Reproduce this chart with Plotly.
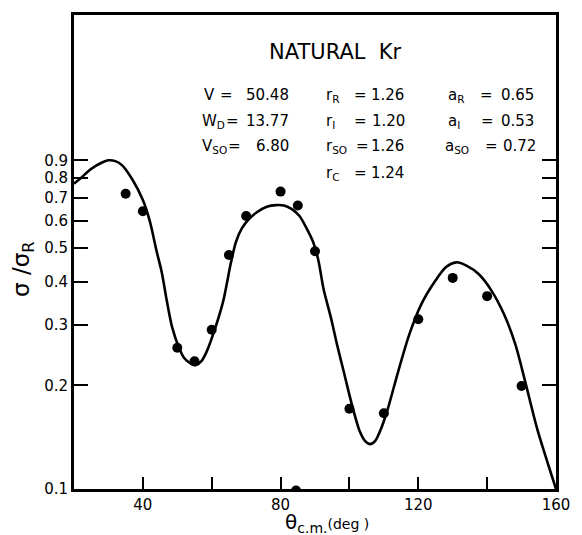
import plotly.graph_objects as go

# Measured elastic scattering ratio sigma/sigma_R for natural Kr
theta_data = [35, 40, 50, 55, 60, 65, 70, 80, 84.5, 85, 90, 100, 110, 120, 130, 140, 150]
ratio_data = [0.72, 0.64, 0.257, 0.235, 0.29, 0.478, 0.62, 0.73, 0.099, 0.665, 0.49,
              0.171, 0.166, 0.311, 0.41, 0.363, 0.199]

# Optical-model fit curve
theta_fit = [20, 22, 25, 28, 30, 32, 34, 37, 40, 42, 44, 45.5, 47, 48.5, 50.5, 52, 54,
             55.5, 57, 58.5, 60.4, 63.3, 65.5, 67, 68.7, 71, 73, 76, 78.7, 81, 83.4,
             85.5, 87.6, 89.5, 91, 92.5, 94.6, 96.5, 98.3, 100.7, 103, 104.5, 106, 107.5,
             109, 111, 114.2, 117.4, 120.9, 124.8, 128, 131, 134, 137.6, 141.3, 145,
             148.2, 151, 154.5, 157.7, 160]
ratio_fit = [0.77, 0.80, 0.85, 0.885, 0.90, 0.895, 0.87, 0.79, 0.69, 0.60, 0.49, 0.425,
             0.35, 0.295, 0.257, 0.24, 0.231, 0.229, 0.235, 0.25, 0.281, 0.35, 0.45,
             0.52, 0.57, 0.61, 0.635, 0.66, 0.667, 0.665, 0.648, 0.62, 0.57, 0.52, 0.46,
             0.38, 0.315, 0.26, 0.22, 0.176, 0.147, 0.138, 0.135, 0.138, 0.148, 0.169,
             0.22, 0.281, 0.344, 0.40, 0.44, 0.455, 0.445, 0.42, 0.376, 0.32, 0.263,
             0.206, 0.15, 0.118, 0.1]

# Axis ticks
x_tickvals = [40, 60, 80, 100, 120, 140, 160]
x_ticktext = ["40", "", "80", "", "120", "", "160"]
y_tickvals = [0.1, 0.2, 0.3, 0.4, 0.5, 0.6, 0.7, 0.8, 0.9]
y_ticktext = ["0.1", "0.2", "0.3", "0.4", "0.5", "0.6", "0.7", "0.8", "0.9"]

# Optical-model parameters, three columns
col1_names = ["V", "W<sub>D</sub>", "V<sub>SO</sub>"]
col1_values = ["50.48", "13.77", "6.80"]
col2_names = ["r<sub>R</sub>", "r<sub>I</sub>", "r<sub>SO</sub>", "r<sub>C</sub>"]
col2_values = ["1.26", "1.20", "1.26", "1.24"]
col3_names = ["a<sub>R</sub>", "a<sub>I</sub>", "a<sub>SO</sub>"]
col3_values = ["0.65", "0.53", "0.72"]

W, H = 582, 535
ML, MR, MT, MB = 74, 16, 13, 46
PW, PH = W - ML - MR, H - MT - MB
FONT = "DejaVu Sans"


def paper(px, py):
    return (px - ML) / PW, (H - MB - py) / PH


fig = go.Figure()
fig.add_trace(go.Scatter(x=theta_fit, y=ratio_fit, mode="lines",
                         line=dict(color="black", width=2.6, shape="spline", smoothing=0.8),
                         hoverinfo="skip"))
fig.add_trace(go.Scatter(x=theta_data, y=ratio_data, mode="markers",
                         marker=dict(color="black", size=10), cliponaxis=True))

annotations = []


def add_text(text, px, py, size, xanchor="left", yanchor="top", angle=0):
    x, y = paper(px, py)
    annotations.append(dict(text=text, x=x, y=y, xref="paper", yref="paper",
                            xanchor=xanchor, yanchor=yanchor, showarrow=False,
                            textangle=angle, borderpad=0,
                            font=dict(family=FONT, size=size, color="black")))


add_text("NATURAL  Kr", 341, 50, 21, xanchor="center", yanchor="middle")

row_y = [93, 119, 145, 172]
PS = 15
# column layout: symbol start, '=' center, value right end (pixels)
col1_layout = [(206, 230, 294), (204, 236, 294), (204, 238, 294)]
col2_layout = [(330, 366, 412), (330, 366, 413), (330, 368, 412), (330, 366, 412)]
col3_layout = [(455, 495, 545), (455, 496, 545), (452, 500, 547)]

for names, values, layout in [(col1_names, col1_values, col1_layout),
                              (col2_names, col2_values, col2_layout),
                              (col3_names, col3_values, col3_layout)]:
    for i, (nm, val) in enumerate(zip(names, values)):
        sx, ex, vx = layout[i]
        top = row_y[i] - 10
        add_text(nm, sx, top, PS)
        add_text("=", ex, top, PS, xanchor="center")
        add_text(val, vx, top, PS, xanchor="right")

add_text("σ /σ<sub>R</sub>", 22, 269, 23, xanchor="center", yanchor="middle", angle=-90)
add_text("θ<sub>c.m.</sub><span style='font-size:14px'>(deg )</span>", 332, 523, 20,
         xanchor="center", yanchor="middle")

fig.update_layout(
    width=W, height=H,
    margin=dict(l=ML, r=MR, t=MT, b=MB),
    paper_bgcolor="white", plot_bgcolor="white",
    showlegend=False,
    annotations=annotations,
    font=dict(family=FONT, size=14, color="black"),
    xaxis=dict(range=[20, 160], tickvals=x_tickvals, ticktext=x_ticktext,
               ticks="inside", ticklen=12, tickwidth=2, tickcolor="black",
               showline=True, linewidth=2.7, linecolor="black", mirror=True,
               showgrid=False, zeroline=False,
               tickfont=dict(family=FONT, size=15, color="black")),
    yaxis=dict(type="log", range=[-1, 0.376], tickvals=y_tickvals, ticktext=y_ticktext,
               ticks="inside", ticklen=14, tickwidth=2, tickcolor="black",
               showline=True, linewidth=2.7, linecolor="black", mirror="ticks",
               showgrid=False, zeroline=False,
               tickfont=dict(family=FONT, size=15, color="black")),
)

fig.write_html("out.html")
